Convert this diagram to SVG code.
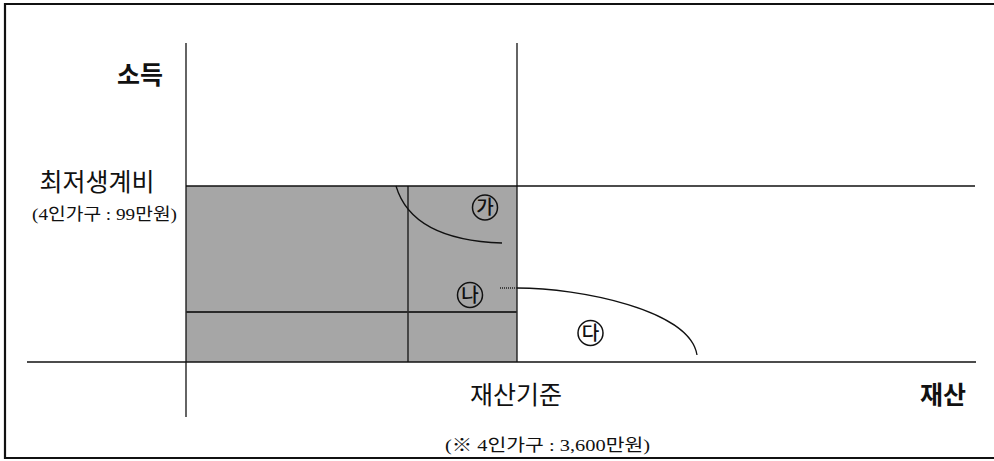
<svg xmlns="http://www.w3.org/2000/svg" width="994" height="461" viewBox="0 0 994 461">
  <style>
    .t { font-family: "Liberation Serif", "Noto Sans CJK KR", serif; fill: #111; }
    .b { font-weight: bold; }
    .ln { stroke: #111; stroke-width: 1.3; fill: none; }
    .circ { fill: none; stroke: #111; stroke-width: 1.5; }
    .lab { font-family: "Noto Sans CJK KR", sans-serif; font-size: 19px; font-weight: 500; fill: #111; text-anchor: middle; }
  </style>
  <rect x="0" y="0" width="994" height="461" fill="#ffffff"/>
  <g id="frame">
    <path d="M996,4 H5 V458 H996" fill="none" stroke="#111" stroke-width="2.2"/>
  </g>
  <g id="shaded-area">
    <rect x="186" y="186" width="331" height="176" fill="#a6a6a6"/>
  </g>
  <g id="connectors">
    <line class="ln" x1="186" y1="43" x2="186" y2="417"/>
    <line class="ln" x1="517" y1="43" x2="517" y2="362"/>
    <line class="ln" x1="186" y1="186" x2="975" y2="186"/>
    <line class="ln" x1="27" y1="362" x2="976" y2="362"/>
    <line class="ln" x1="408" y1="186" x2="408" y2="362"/>
    <line x1="186" y1="312" x2="517" y2="312" stroke="#2a2a2a" stroke-width="2.2"/>
    <path class="ln" d="M396,186 Q412,240 502,243"/>
    <line x1="500" y1="288" x2="517" y2="288" stroke="#222" stroke-width="1.3" stroke-dasharray="1 1"/>
    <path class="ln" d="M517,288 C580,288 690,310 697,355"/>
  </g>
  <g id="label-income">
    <text class="t b" x="163" y="84" font-size="25" text-anchor="end">소득</text>
  </g>
  <g id="label-minimum">
    <text class="t" x="97" y="191" font-size="25" text-anchor="middle">최저생계비</text>
    <text class="t" x="32" y="220" font-size="17" textLength="145" lengthAdjust="spacingAndGlyphs">(4인가구 : 99만원)</text>
  </g>
  <g id="label-asset-standard">
    <text class="t" x="470" y="404" font-size="25">재산기준</text>
    <text class="t" x="445" y="451" font-size="17" textLength="205" lengthAdjust="spacingAndGlyphs">(※ 4인가구 : 3,600만원)</text>
  </g>
  <g id="label-asset">
    <text class="t b" x="920" y="404" font-size="25">재산</text>
  </g>
  <g id="node-ga">
    <circle class="circ" cx="485" cy="207.5" r="12.5"/>
    <text class="lab" x="485" y="214">가</text>
  </g>
  <g id="node-na">
    <circle class="circ" cx="470" cy="295" r="12.5"/>
    <text class="lab" x="470" y="301.5">나</text>
  </g>
  <g id="node-da">
    <circle class="circ" cx="590.5" cy="333" r="12.5"/>
    <text class="lab" x="590.5" y="339.5">다</text>
  </g>
</svg>
